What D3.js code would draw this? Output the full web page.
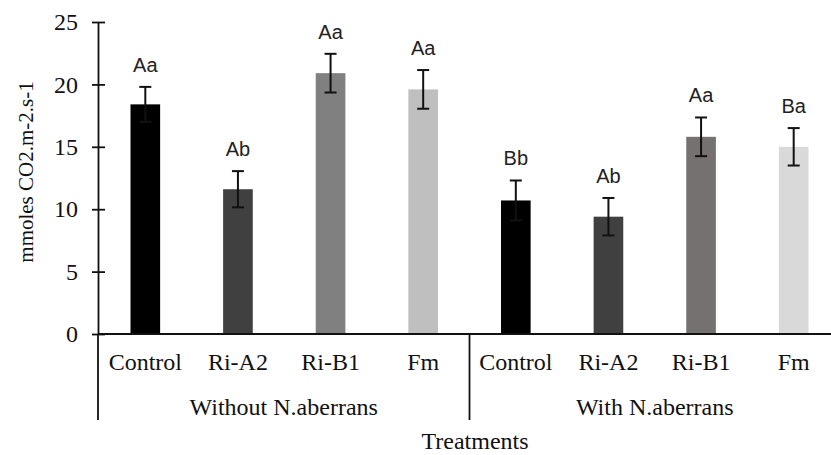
<!DOCTYPE html>
<html>
<head>
<meta charset="utf-8">
<script src="https://cdn.jsdelivr.net/npm/d3@7"></script>
<style>
  html, body { margin: 0; padding: 0; background: #fff; }
  svg { display: block; }
  .serif { font-family: "Liberation Serif", "Times New Roman", serif; fill: #111; }
  .letters { font-family: "Liberation Sans", Arial, sans-serif; fill: #222; }
</style>
</head>
<body>
<svg id="chart" width="831" height="455"></svg>
<script>
const groups = ["Without N.aberrans", "With N.aberrans"];
const treatments = ["Control", "Ri-A2", "Ri-B1", "Fm"];
const meanWithout = [18.4, 11.6, 20.9, 19.6];
const errWithout = [1.4, 1.45, 1.55, 1.55];
const meanWith = [10.7, 9.4, 15.8, 15.0];
const errWith = [1.6, 1.5, 1.55, 1.5];
const lettersWithout = ["Aa", "Ab", "Aa", "Aa"];
const lettersWith = ["Bb", "Ab", "Aa", "Ba"];
const yTicks = [0, 5, 10, 15, 20, 25];

const colorsWithout = ["#000000", "#404040", "#808080", "#bfbfbf"];
const colorsWith = ["#000000", "#404040", "#767171", "#d9d9d9"];

// flatten to one row per bar
const rows = [];
[[meanWithout, errWithout, lettersWithout, colorsWithout],
 [meanWith, errWith, lettersWith, colorsWith]].forEach(([m, e, l, c], gi) => {
  treatments.forEach((t, i) => {
    rows.push({ key: gi + "-" + t, group: groups[gi], treatment: t, value: m[i], err: e[i], letter: l[i], color: c[i] });
  });
});

const svg = d3.select("#chart");
const plotLeft = 98, plotRight = 840, plotTop = 22, plotBottom = 334;

const x = d3.scaleBand()
  .domain(rows.map(d => d.key))
  .range([plotLeft + 1, plotRight])
  .paddingInner(0.68)
  .paddingOuter(0.34);

const y = d3.scaleLinear()
  .domain([0, 25])
  .range([plotBottom, plotTop]);

// Y axis
const yAxis = svg.append("g")
  .attr("transform", `translate(${plotLeft},0)`)
  .call(d3.axisLeft(y).tickValues(yTicks).tickSizeInner(6).tickSizeOuter(0).tickPadding(14));
yAxis.select(".domain").attr("stroke", "#111").attr("stroke-width", 1.8);
yAxis.selectAll(".tick line").attr("x2", 7).attr("x1", -6).attr("stroke", "#111").attr("stroke-width", 1.8);
yAxis.selectAll(".tick text")
  .attr("class", "serif")
  .attr("x", -20)
  .style("font-size", "24px");

// Bars
svg.append("g").selectAll("rect")
  .data(rows)
  .enter()
  .append("rect")
  .attr("x", d => x(d.key))
  .attr("y", d => y(d.value))
  .attr("width", x.bandwidth())
  .attr("height", d => y(0) - y(d.value))
  .attr("fill", d => d.color);

// Error bars
const eb = svg.append("g").attr("stroke", "#111").attr("stroke-width", 2);
rows.forEach(d => {
  const cx = x(d.key) + x.bandwidth() / 2;
  eb.append("line").attr("x1", cx).attr("x2", cx).attr("y1", y(d.value + d.err)).attr("y2", y(d.value - d.err));
  eb.append("line").attr("x1", cx - 6).attr("x2", cx + 6).attr("y1", y(d.value + d.err)).attr("y2", y(d.value + d.err));
  eb.append("line").attr("x1", cx - 6).attr("x2", cx + 6).attr("y1", y(d.value - d.err)).attr("y2", y(d.value - d.err));
});

// Significance letters
svg.append("g").selectAll("text")
  .data(rows)
  .enter()
  .append("text")
  .attr("class", "letters")
  .attr("x", d => x(d.key) + x.bandwidth() / 2)
  .attr("y", d => y(d.value + d.err) - 15)
  .attr("text-anchor", "middle")
  .style("font-size", "20px")
  .text(d => d.letter);

// X axis line
svg.append("line")
  .attr("x1", plotLeft).attr("x2", plotRight)
  .attr("y1", plotBottom).attr("y2", plotBottom)
  .attr("stroke", "#111").attr("stroke-width", 1.8);

// Category labels
svg.append("g").selectAll("text")
  .data(rows)
  .enter()
  .append("text")
  .attr("class", "serif")
  .attr("x", d => x(d.key) + x.bandwidth() / 2)
  .attr("y", 370)
  .attr("text-anchor", "middle")
  .style("font-size", "24px")
  .text(d => d.treatment);

// Group separators and labels
const step = x.step();
const groupEdges = groups.map((g, gi) => {
  const keys = rows.filter(d => d.group === g).map(d => d.key);
  const x0 = x(keys[0]) - step * x.paddingInner() / 2;
  const x1 = x(keys[keys.length - 1]) + x.bandwidth() + step * x.paddingInner() / 2;
  return { g, x0: gi === 0 ? plotLeft : x0, x1 };
});

svg.append("g").selectAll("line")
  .data(groupEdges)
  .enter()
  .append("line")
  .attr("x1", d => d.x0).attr("x2", d => d.x0)
  .attr("y1", plotBottom).attr("y2", 420)
  .attr("stroke", "#111").attr("stroke-width", 1.8);

svg.append("g").selectAll("text")
  .data(groupEdges)
  .enter()
  .append("text")
  .attr("class", "serif")
  .attr("x", d => (d.x0 + d.x1) / 2)
  .attr("y", 415)
  .attr("text-anchor", "middle")
  .style("font-size", "24px")
  .text(d => d.g);

// Axis titles
svg.append("text")
  .attr("class", "serif")
  .attr("x", 475)
  .attr("y", 449)
  .attr("text-anchor", "middle")
  .style("font-size", "24px")
  .text("Treatments");

svg.append("text")
  .attr("class", "serif")
  .attr("transform", `translate(33,172) rotate(-90)`)
  .attr("text-anchor", "middle")
  .style("font-size", "21px")
  .text("mmoles CO2.m-2.s-1");
</script>
</body>
</html>
